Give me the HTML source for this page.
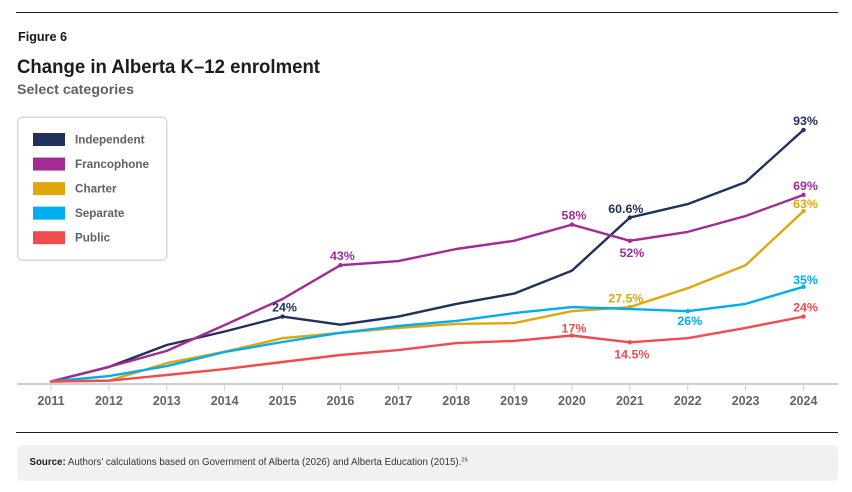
<!DOCTYPE html>
<html>
<head>
<meta charset="utf-8">
<title>Change in Alberta K–12 enrolment</title>
<style>
html,body{margin:0;padding:0;background:#fff;width:852px;height:492px;overflow:hidden}
svg{display:block}
text{font-family:"Liberation Sans",sans-serif}
</style>
</head>
<body>
<svg id="chart" xmlns="http://www.w3.org/2000/svg" width="852" height="492" viewBox="0 0 852 492">
  <rect x="16" y="12" width="822" height="1" fill="#1d1d1f"/>
  <text x="18" y="41" font-size="12.5" font-weight="700" fill="#16161d" textLength="49" lengthAdjust="spacingAndGlyphs">Figure 6</text>
  <text x="17" y="73" font-size="19.5" font-weight="700" fill="#1b1b22" textLength="303" lengthAdjust="spacingAndGlyphs">Change in Alberta K–12 enrolment</text>
  <text x="17" y="94" font-size="14" font-weight="700" fill="#5f6068" textLength="117" lengthAdjust="spacingAndGlyphs">Select categories</text>

  <g>
    <rect x="17.75" y="117.25" width="149" height="143" rx="4.5" fill="#fff" stroke="#d9d9d9" stroke-width="1.5"/>
    <g id="legend-items"></g>
  </g>

  <g id="axis"></g>
  <g id="lines"></g>
  <g id="labels"></g>

  <rect x="16" y="432" width="822" height="1" fill="#1d1d1f"/>
  <rect x="17" y="445" width="821" height="36" rx="5" fill="#f1f1f1"/>
  <text x="29.5" y="465" font-size="9.72" fill="#33343a"><tspan font-weight="700" fill="#1d1d22">Source:</tspan> Authors’ calculations based on Government of Alberta (2026) and Alberta Education (2015).<tspan font-size="5.8" dy="-3.5">25</tspan></text>
</svg>
<script>
const years = [2011,2012,2013,2014,2015,2016,2017,2018,2019,2020,2021,2022,2023,2024];

const seriesNames = ['Independent','Francophone','Charter','Separate','Public'];
const seriesColors = ['#20315c','#a02c94','#e0a70d','#00aeef','#f04b4f'];

const independent = [0,5.4,13.5,18.5,24,21,24,28.7,32.5,41,60.6,65.6,73.7,93];
const francophone = [0,5.4,11.3,20.9,30.5,43,44.5,49,52,58,52,55.3,61.2,69];
const charter = [0,0.3,6.8,11,16,18,19.8,21.3,21.6,26,27.5,34.5,43,63];
const separate = [0,2,5.7,10.9,14.6,18,20.5,22.4,25.3,27.5,26.8,26,28.7,35];
const publicSchools = [0,0.3,2.4,4.6,7.2,9.8,11.6,14.2,15,17,14.5,16,19.8,24];

const independentLabels = [[2015,'above'],[2021,'aboveLeft'],[2024,'above']];
const francophoneLabels = [[2016,'above'],[2020,'above'],[2021,'below'],[2024,'above']];
const charterLabels = [[2021,'aboveLeft'],[2024,'aboveNear']];
const separateLabels = [[2022,'belowNear'],[2024,'aboveNear']];
const publicLabels = [[2020,'aboveNear'],[2021,'below'],[2024,'above']];

const allSeries = [charter,separate,publicSchools,independent,francophone];
const allLabels = [charterLabels,separateLabels,publicLabels,independentLabels,francophoneLabels];

const NS = 'http://www.w3.org/2000/svg';
const xScale = function(year){ return 51 + (year - 2011) * (752.5 / 13); };
const yScale = function(v){ return 381.5 - v * 2.705; };

function make(parent, tag, attrs, txt){
  const el = document.createElementNS(NS, tag);
  for (const k in attrs) el.setAttribute(k, attrs[k]);
  if (txt !== undefined) el.textContent = txt;
  parent.appendChild(el);
  return el;
}

const legendGroup = document.getElementById('legend-items');
seriesNames.forEach(function(name, i){
  const swatch = make(legendGroup, 'rect', {x:33, y:133 + i * 24.55, width:32, height:13, fill:seriesColors[i]});
  
  
  const label = make(legendGroup, 'text', {x:75, y:143.5 + i * 24.55, 'font-size':11.7, 'font-weight':700, fill:'#5f6068'}, name);
  
  
});

const axisGroup = document.getElementById('axis');
const axisLine = make(axisGroup, 'rect', {x:17, y:383, width:821, height:2, fill:'#cfcfcf'});


years.forEach(function(year){
  const x = xScale(year);
  const tick = make(axisGroup, 'rect', {x:x - 0.5, y:384, width:1, height:6.5, fill:'#cfcfcf'});
  
  
  const label = make(axisGroup, 'text', {x:x, y:405, 'font-size':12.5, 'font-weight':700, fill:'#63646c', 'text-anchor':'middle'}, String(year));
  
  
});

const lineGroup = document.getElementById('lines');
const labelGroup = document.getElementById('labels');
const colorOf = [seriesColors[2],seriesColors[3],seriesColors[4],seriesColors[0],seriesColors[1]];
const nameOf = [seriesNames[2],seriesNames[3],seriesNames[4],seriesNames[0],seriesNames[1]];
const order = [3,4,0,1,2];
const placeDx = {above:2, aboveNear:2, aboveLeft:-4, below:2, belowNear:2};
const placeDy = {above:-5, aboveNear:-3, aboveLeft:-4.7, below:16, belowNear:14};

order.forEach(function(s){
  const values = allSeries[s];
  const pts = values.map(function(v, i){ return xScale(years[i]).toFixed(1) + ',' + yScale(v).toFixed(1); }).join(' ');
  const line = make(lineGroup, 'polyline', {points:pts, fill:'none', stroke:colorOf[s], 'stroke-width':2.4, 'stroke-linejoin':'round', 'stroke-linecap':'round'});
  
  
  allLabels[s].forEach(function(item){
    const year = item[0];
    const place = item[1];
    const v = values[years.indexOf(year)];
    const x = xScale(year);
    const y = yScale(v);
    const dot = make(lineGroup, 'circle', {cx:x, cy:y, r:2.2, fill:colorOf[s]});
    
    
    const label = make(labelGroup, 'text', {x:x + placeDx[place], y:y + placeDy[place], 'font-size':12.4, 'font-weight':700, fill:colorOf[s], 'text-anchor':'middle'}, v + '%');
    
    
  });
});
</script>
</body>
</html>
